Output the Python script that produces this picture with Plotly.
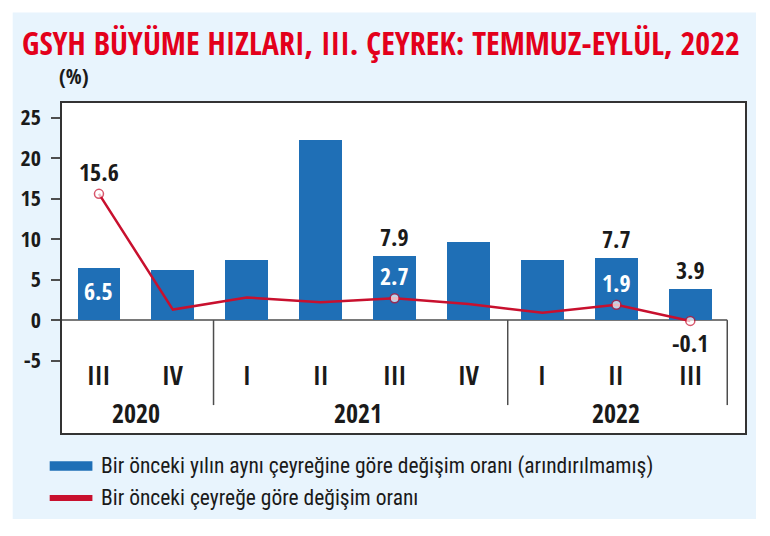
import plotly.graph_objects as go

# ---- data ----
quarters = ["III", "IV", "I", "II", "III", "IV", "I", "II", "III"]
years = ["2020", "2021", "2022"]
year_groups = [[0, 1], [2, 3, 4, 5], [6, 7, 8]]
yoy = [6.5, 6.2, 7.4, 22.2, 7.9, 9.6, 7.4, 7.7, 3.9]          # blue bars
qoq = [15.6, 1.3, 2.8, 2.2, 2.7, 2.0, 0.9, 1.9, -0.1]         # red line
yoy_labelled = [0, 4, 7, 8]
qoq_labelled = [0, 4, 7, 8]
y_ticks = [-5, 0, 5, 10, 15, 20, 25]
series_names = ["Bir önceki yılın aynı çeyreğine göre değişim oranı (arındırılmamış)",
                "Bir önceki çeyreğe göre değişim oranı"]
title_text = "GSYH BÜYÜME HIZLARI, III. ÇEYREK: TEMMUZ-EYLÜL, 2022"

FONT = "Open Sans Condensed, Roboto Condensed, sans-serif"
FONT_REG = "Roboto Condensed, sans-serif"
BLUE = "#1F6FB6"
RED = "#C8102E"
DARK = "#1A1A1A"
GRAY = "#4D4D4D"
PANEL = "#E8F4FD"

W, H = 770, 536
L, R, T, B = 62.3, 745, 102.7, 433
pw, ph = R - L, B - T

def px(x):
    return (x - L) / pw

def py(y):
    return (B - y) / ph

x_idx = list(range(len(quarters)))

fig = go.Figure()
fig.add_trace(go.Bar(x=x_idx, y=yoy, width=0.58, marker=dict(color=BLUE, line=dict(width=0)),
                     name=series_names[0], showlegend=False))
fig.add_trace(go.Scatter(x=x_idx, y=qoq, mode="lines+markers", name=series_names[1], showlegend=False,
                         line=dict(color=RED, width=2.5),
                         marker=dict(size=[9 if i in qoq_labelled else 0 for i in x_idx],
                                     color="white", line=dict(color=RED, width=1.5))))

ann = []
# value labels
for i in yoy_labelled:
    inside = (i == 0)
    ann.append(dict(x=i, y=yoy[i], xref="x", yref="y", text=f"{yoy[i]:.1f}", showarrow=False,
                    yanchor="top" if inside else "bottom", yshift=-4 if inside else 1,
                    font=dict(family=FONT, size=24, weight="bold", color="white" if inside else DARK)))
for i in qoq_labelled:
    v = qoq[i]
    inside_bar = (i in (4, 7))
    if v < 0:
        ann.append(dict(x=i, y=v, xref="x", yref="y", text=f"{v:.1f}", showarrow=False,
                        yanchor="top", yshift=-3, font=dict(family=FONT, size=24, weight="bold", color=DARK)))
    else:
        ann.append(dict(x=i, y=v, xref="x", yref="y", text=f"{v:.1f}", showarrow=False,
                        yanchor="bottom", yshift=4,
                        font=dict(family=FONT, size=24, weight="bold", color="white" if inside_bar else DARK)))
# category labels
for i, q in enumerate(quarters):
    ann.append(dict(x=i, y=py(375), xref="x", yref="paper", text=q, showarrow=False, yanchor="middle",
                    font=dict(family=FONT, size=26, weight="bold", color=DARK)))
for yr, grp in zip(years, year_groups):
    ann.append(dict(x=sum(grp) / len(grp), y=py(413), xref="x", yref="paper", text=yr, showarrow=False,
                    yanchor="middle", font=dict(family=FONT, size=26, weight="bold", color=DARK)))
# title and unit
ann.append(dict(x=px(20), y=py(42), xref="paper", yref="paper", text=title_text, showarrow=False,
                xanchor="left", yanchor="middle",
                font=dict(family=FONT, size=32, weight="bold", color="#E3001B")))
ann.append(dict(x=px(74), y=py(76), xref="paper", yref="paper", text="(%)", showarrow=False,
                xanchor="center", yanchor="middle",
                font=dict(family=FONT, size=21, weight="bold", color=DARK)))
# legend texts
for name, yc in zip(series_names, [466, 498]):
    ann.append(dict(x=px(99), y=py(yc), xref="paper", yref="paper", text=name, showarrow=False,
                    xanchor="left", yanchor="middle",
                    font=dict(family=FONT_REG, size=21.5, color=DARK)))

shapes = [
    dict(type="rect", xref="paper", yref="paper", x0=px(13), x1=px(756), y0=py(519), y1=py(12),
         fillcolor=PANEL, line=dict(width=0), layer="below"),
    dict(type="rect", xref="paper", yref="paper", x0=0, x1=1, y0=0, y1=1,
         fillcolor="white", line=dict(width=0), layer="below"),
    dict(type="line", xref="x", yref="y", x0=-0.5, x1=8.5, y0=0, y1=0,
         line=dict(color=GRAY, width=1.5), layer="below"),
    # legend swatches
    dict(type="rect", xref="paper", yref="paper", x0=px(50), x1=px(92.7), y0=py(470.7), y1=py(461.3),
         fillcolor=BLUE, line=dict(width=0)),
    dict(type="rect", xref="paper", yref="paper", x0=px(50), x1=px(92.7), y0=py(501), y1=py(495),
         fillcolor=RED, line=dict(width=0)),
]
for xs in [1.55, 5.53, 8.5]:
    shapes.append(dict(type="line", xref="x", yref="y", x0=xs, x1=xs, y0=0, y1=-10.5,
                       line=dict(color=GRAY, width=1.5), layer="below"))

y0px = 320.0
scale = 8.1
fig.update_layout(
    width=W, height=H,
    margin=dict(l=L, r=W - R, t=T, b=H - B, pad=0),
    paper_bgcolor="white", plot_bgcolor="white",
    showlegend=False, bargap=0,
    annotations=ann, shapes=shapes,
    xaxis=dict(range=[-0.5, 8.74], showgrid=False, zeroline=False, showticklabels=False, ticks="",
               showline=True, mirror=True, linecolor="#333333", linewidth=1.5, fixedrange=True),
    yaxis=dict(range=[-(B - y0px) / scale, (y0px - T) / scale], showgrid=False, zeroline=False,
               tickvals=y_ticks, ticktext=[str(v) for v in y_ticks],
               ticks="outside", ticklen=9, tickwidth=1.5, tickcolor=GRAY, ticklabelstandoff=6,
               tickfont=dict(family=FONT, size=22, weight="bold", color=DARK),
               showline=True, mirror=True, linecolor="#333333", linewidth=1.5, fixedrange=True),
)

fig.write_html("out.html")
